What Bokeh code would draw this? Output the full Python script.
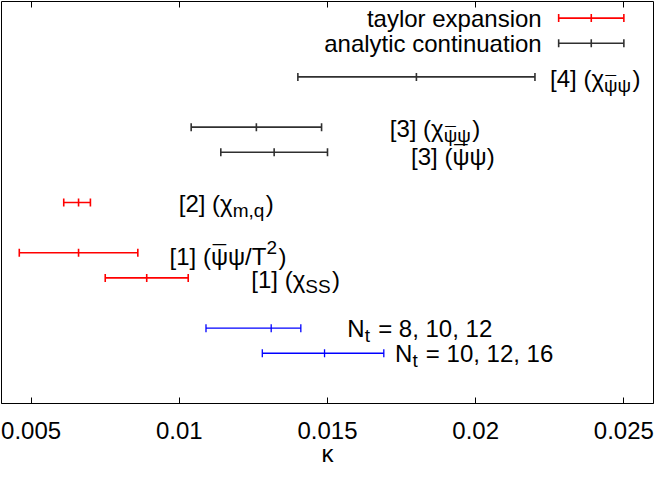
import glob
import struct
import numpy as np
from bokeh.plotting import figure
from bokeh.models import (ColumnDataSource, Whisker, TeeHead, LinearAxis,
                          FixedTicker, Range1d)
from bokeh.core.properties import value
from bokeh.embed import file_html
from bokeh.resources import INLINE

# ---------------- data ----------------
x_ticks = [0.005, 0.01, 0.015, 0.02, 0.025]
x_tick_labels = ["0.005", "0.01", "0.015", "0.02", "0.025"]
x_axis_title = "κ"

# taylor expansion (red)
taylor_y = [8, 6, 5]
taylor_k = [0.0066, 0.0066, 0.0089]
taylor_lo = [0.0061, 0.0046, 0.0075]
taylor_hi = [0.0070, 0.0086, 0.0103]

# analytic continuation (black)
analytic_y = [13, 11, 10]
analytic_k = [0.0180, 0.0126, 0.0132]
analytic_lo = [0.0140, 0.0104, 0.0114]
analytic_hi = [0.0220, 0.0148, 0.0150]

# this work (blue)
ours_y = [3, 2]
ours_k = [0.0131, 0.0149]
ours_lo = [0.0109, 0.0128]
ours_hi = [0.0141, 0.0169]

key_labels = ["taylor expansion", "analytic continuation"]

# annotation texts: pieces (text, kind); kind: n=normal, sub, sup, bar=overlined
NB = "\u00a0"
label_x = [0.02251, 0.01710, 0.01782, 0.00998, 0.00967, 0.01243, 0.01567, 0.01728]
label_y = [12.95, 10.95, 9.85, 7.95, 5.85, 4.95, 3.0, 2.0]
label_parts = [
    [("[4] (χ", "n"), ("ψ", "subbar"), ("ψ", "sub"), (")", "n")],
    [("[3] (χ", "n"), ("ψ", "subbar"), ("ψ", "sub"), (")", "n")],
    [("[3] (", "n"), ("ψ", "bar"), ("ψ)", "n")],
    [("[2] (χ", "n"), ("m,q", "sub"), (")", "n")],
    [("[1] (", "n"), ("ψ", "bar"), ("ψ/T", "n"), ("2", "sup"), (")", "n")],
    [("[1] (χ", "n"), ("SS", "sub"), (")", "n")],
    [("N", "n"), ("t", "sub"), (NB + "= 8, 10, 12", "n")],
    [("N", "n"), ("t", "sub"), (NB + "= 10, 12, 16", "n")],
]

# ---------------- style ----------------
FONT = "Liberation Sans"
MAIN = 24
SUB = 19
RED, BLACK, BLUE = "#ff0000", "#303030", "#0000ff"
X0, X1 = 0.004, 0.026
Y0, Y1 = 0, 16

FALLBACK_W = {' ': .278, NB: .278, '(': .333, ')': .333, '[': .278, ']': .278,
              ',': .278, '.': .278, '/': .278, '=': .584, 'N': .722, 'T': .611,
              'S': .667, 'm': .833, 'q': .556, 't': .278, 'χ': .52, 'ψ': .71, '¯': .552}


def load_font_widths():
    files = (glob.glob("/usr/share/fonts/**/LiberationSans-Regular.ttf", recursive=True)
             + glob.glob("/usr/local/share/fonts/**/LiberationSans-Regular.ttf", recursive=True))
    if not files:
        return None
    data = open(files[0], "rb").read()
    n = struct.unpack(">H", data[4:6])[0]
    tabs = {}
    for i in range(n):
        tag, _, off, ln = struct.unpack(">4sIII", data[12 + 16 * i:28 + 16 * i])
        tabs[tag.decode("latin1")] = off
    head = tabs["head"]
    upem = struct.unpack(">H", data[head + 18:head + 20])[0]
    hhea = tabs["hhea"]
    nhm = struct.unpack(">H", data[hhea + 34:hhea + 36])[0]
    hm = tabs["hmtx"]
    adv = [struct.unpack(">H", data[hm + 4 * i:hm + 4 * i + 2])[0] for i in range(nhm)]
    cm = tabs["cmap"]
    nsub = struct.unpack(">H", data[cm + 2:cm + 4])[0]
    st = None
    for i in range(nsub):
        pid, eid, off = struct.unpack(">HHI", data[cm + 4 + 8 * i:cm + 12 + 8 * i])
        s = cm + off
        if struct.unpack(">H", data[s:s + 2])[0] == 4 and pid in (0, 3):
            st = s
            break
    if st is None:
        return None
    seg2 = struct.unpack(">H", data[st + 6:st + 8])[0]
    seg = seg2 // 2
    ends = struct.unpack(">%dH" % seg, data[st + 14:st + 14 + seg2])
    starts = struct.unpack(">%dH" % seg, data[st + 16 + seg2:st + 16 + 2 * seg2])
    deltas = struct.unpack(">%dh" % seg, data[st + 16 + 2 * seg2:st + 16 + 3 * seg2])
    rop = st + 16 + 3 * seg2
    ranges = struct.unpack(">%dH" % seg, data[rop:rop + seg2])

    def gid(c):
        for k in range(seg):
            if ends[k] >= c:
                if starts[k] > c:
                    return 0
                if ranges[k] == 0:
                    return (c + deltas[k]) & 0xFFFF
                a = rop + 2 * k + ranges[k] + 2 * (c - starts[k])
                g = struct.unpack(">H", data[a:a + 2])[0]
                return (g + deltas[k]) & 0xFFFF if g else 0
        return 0

    def w(ch):
        return adv[min(gid(ord(ch)), nhm - 1)] / upem
    return w


try:
    _fw = load_font_widths()
except Exception:
    _fw = None


def text_w(s, size):
    if _fw is not None:
        return sum(_fw(c) for c in s) * size
    return sum(FALLBACK_W.get(c, .556) for c in s) * size


p = figure(width=654, height=469, x_range=Range1d(X0, X1), y_range=Range1d(Y0, Y1),
           output_backend="svg", toolbar_location=None, y_axis_location=None,
           min_border_left=1, min_border_right=1, min_border_top=1, min_border_bottom=63)
p.grid.visible = False
p.outline_line_color = "black"
p.outline_line_width = 1
p.background_fill_color = "white"
p.border_fill_color = "white"

ax = p.xaxis[0]
ax.ticker = FixedTicker(ticks=x_ticks)
ax.major_label_overrides = {t: l for t, l in zip(x_ticks, x_tick_labels)}
ax.major_tick_in = 6
ax.major_tick_out = 0
ax.minor_tick_in = 0
ax.minor_tick_out = 0
ax.major_tick_line_color = "black"
ax.axis_line_color = "black"
ax.major_label_text_font = FONT
ax.major_label_text_font_size = f"{MAIN}px"
ax.major_label_text_color = "black"
ax.major_label_standoff = 18
ax.axis_label = x_axis_title
ax.axis_label_text_font = FONT
ax.axis_label_text_font_size = f"{MAIN}px"
ax.axis_label_text_font_style = "normal"
ax.axis_label_text_color = "black"
ax.axis_label_standoff = -2

top = LinearAxis(ticker=FixedTicker(ticks=x_ticks), major_tick_in=6, major_tick_out=0,
                 minor_tick_in=0, minor_tick_out=0, axis_line_color=None,
                 major_label_text_font_size="0px", major_label_standoff=0,
                 major_tick_line_color="black")
top.major_label_overrides = {t: "" for t in x_ticks}
p.add_layout(top, "above")


def errbars(ys, ks, los, his, color, lw):
    src = ColumnDataSource(dict(y=ys, k=ks, lo=los, hi=his))
    w = Whisker(source=src, base="y", lower="lo", upper="hi", dimension="width",
                line_color=color, line_width=lw,
                lower_head=TeeHead(size=8, line_color=color, line_width=lw),
                upper_head=TeeHead(size=8, line_color=color, line_width=lw))
    p.add_layout(w)
    p.scatter(x="k", y="y", source=src, marker="dash", angle=np.pi / 2, size=8,
              line_color=color, line_width=lw)


errbars(taylor_y, taylor_k, taylor_lo, taylor_hi, RED, 1.6)
errbars(analytic_y, analytic_k, analytic_lo, analytic_hi, BLACK, 1.6)
errbars(ours_y, ours_k, ours_lo, ours_hi, BLUE, 1.3)

# key (top right)
key_colors = [RED, BLACK]
kx_hi = X1 - 0.001
kx_lo = kx_hi - 0.0022
key_y = [Y1 - 0.66 - i for i in range(len(key_labels))]
for c, yy in zip(key_colors, key_y):
    errbars([yy], [(kx_lo + kx_hi) / 2], [kx_lo], [kx_hi], c, 1.6)
p.text(x=[kx_lo] * len(key_labels), y=key_y, text=key_labels, x_offset=-17,
       text_align="right", text_baseline="middle", text_font=value(FONT),
       text_font_size=f"{MAIN}px", text_color="black")

# labels with sub/superscripts and overbars
pieces = {MAIN: dict(x=[], y=[], text=[], xo=[], yo=[]),
          SUB: dict(x=[], y=[], text=[], xo=[], yo=[])}
MAC = "\u00af"


def put(size, lx, ly, s, xo, yo):
    d = pieces[size]
    d["x"].append(lx); d["y"].append(ly); d["text"].append(s)
    d["xo"].append(xo); d["yo"].append(yo)


for lx, ly, parts in zip(label_x, label_y, label_parts):
    off = 0.0
    for s, kind in parts:
        if kind in ("n", "bar"):
            sz, yo = MAIN, 0
        elif kind in ("sub", "subbar"):
            sz, yo = SUB, 7
        else:
            sz, yo = SUB, -9
        put(sz, lx, ly, s, off, yo)
        w = text_w(s, sz)
        if kind in ("bar", "subbar"):
            put(sz, lx, ly, MAC, off + (w - text_w(MAC, sz)) / 2, yo - 3 * sz / MAIN)
        off += w
        if kind in ("sub", "sup"):
            off += 1.5

for sz, d in pieces.items():
    p.text(x="x", y="y", text="text", x_offset="xo", y_offset="yo",
           source=ColumnDataSource(d), text_align="left", text_baseline="middle",
           text_font=value(FONT), text_font_size=f"{sz}px", text_color="black")

open("out.html", "w").write(file_html(p, INLINE))
